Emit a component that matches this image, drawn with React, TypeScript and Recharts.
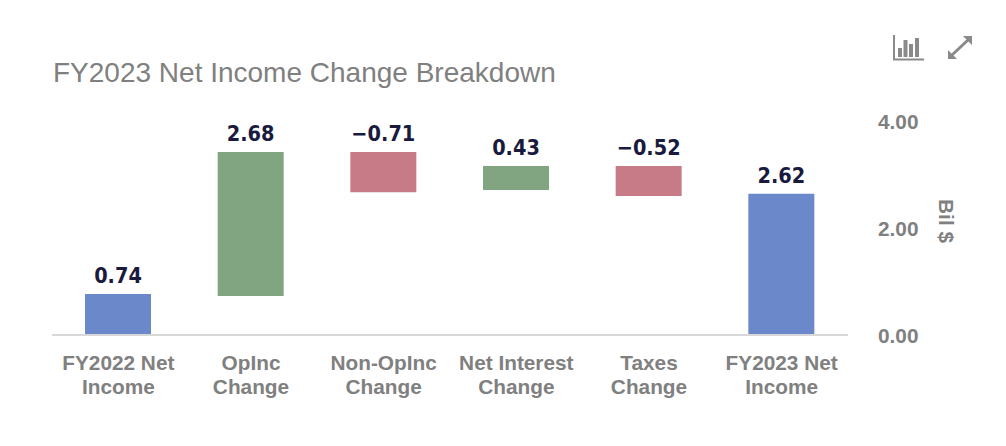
import { BarChart, Bar, Cell, LabelList, XAxis, YAxis } from "recharts"

const categories = ["FY2022 Net Income", "OpInc Change", "Non-OpInc Change", "Net Interest Change", "Taxes Change", "FY2023 Net Income"]
const tickLines = [["FY2022 Net", "Income"], ["OpInc", "Change"], ["Non-OpInc", "Change"], ["Net Interest", "Change"], ["Taxes", "Change"], ["FY2023 Net", "Income"]]
const lows = [0, 0.71, 2.65, 2.69, 2.58, 0]
const highs = [0.75, 3.4, 3.4, 3.14, 3.14, 2.62]
const labels = ["0.74", "2.68", "−0.71", "0.43", "−0.52", "2.62"]
const COLORS = ["#6a88ca", "#80a580", "#c67b87", "#80a580", "#c67b87", "#6a88ca"]
const yTicks = [0, 2, 4]

const data = categories.map((name, i) => ({ name, range: [lows[i], highs[i]], label: labels[i] }))

const grey = "#808080"

function CategoryTick({ x, y, index }: any) {
  return (
    <text x={x} y={y} textAnchor="middle" fill={grey} fontFamily="Liberation Sans" fontWeight="bold" fontSize={20.8}>
      {tickLines[index].map((line, i) => (
        <tspan key={line} x={x} y={y + 28 + i * 24}>{line}</tspan>
      ))}
    </text>
  )
}

function Icons() {
  return (
    <svg width={100} height={32} style={{ position: "absolute", left: 888, top: 32 }}>
      <path d="M6 3 V27.5 H36" fill="none" stroke="#8a8a8a" strokeWidth={2} />
      <rect x={10} y={16} width={4} height={9} fill="#8a8a8a" />
      <rect x={15.5} y={8} width={4} height={17} fill="#8a8a8a" />
      <rect x={21} y={12} width={4} height={13} fill="#8a8a8a" />
      <rect x={27} y={6} width={4} height={19} fill="#8a8a8a" />
      <path d="M64 23 L80 8" stroke="#8a8a8a" strokeWidth={3} />
      <path d="M60 18 V27 H69 Z M75 4 H84 V13 Z" fill="#8a8a8a" />
    </svg>
  )
}

export default function App() {
  return (
    <div style={{ position: "absolute", left: 0, top: 0, width: 1006, height: 446, background: "#fff" }}>
      <div style={{ position: "absolute", left: 53, top: 57, fontFamily: "Liberation Sans", fontSize: 28, color: grey, whiteSpace: "nowrap" }}>
        FY2023 Net Income Change Breakdown
      </div>
      <Icons />
      <BarChart width={1006} height={446} data={data} margin={{ top: 120, right: 0, bottom: 0, left: 52 }}>
        <XAxis
          dataKey="name"
          height={112}
          interval={0}
          tickLine={false}
          axisLine={{ stroke: "#d8d8d8", strokeWidth: 2, transform: "translate(0, 1)" }}
          tick={<CategoryTick />}
        />
        <YAxis
          orientation="right"
          width={158}
          domain={[0, 4]}
          ticks={yTicks}
          tickFormatter={(v: number) => v.toFixed(2)}
          tickLine={false}
          axisLine={false}
          tickMargin={24}
          tick={{ fill: grey, fontFamily: "Liberation Sans", fontWeight: "bold", fontSize: 20.8, textAnchor: "start", dy: 2 }}
          label={{ value: "Bil $", angle: 90, position: "insideRight", dx: -55, dy: 16, fill: grey, fontFamily: "Liberation Sans", fontWeight: "bold", fontSize: 20.8 }}
        />
        <Bar dataKey="range" barSize={66} isAnimationActive={false}>
          {data.map((_, index) => (
            <Cell key={`cell-${index}`} fill={COLORS[index]} />
          ))}
          <LabelList dataKey="label" position="top" offset={11} fill="#1a1a3e" fontFamily="DejaVu Sans Condensed" fontWeight="bold" fontSize={21.5} />
        </Bar>
      </BarChart>
    </div>
  )
}
